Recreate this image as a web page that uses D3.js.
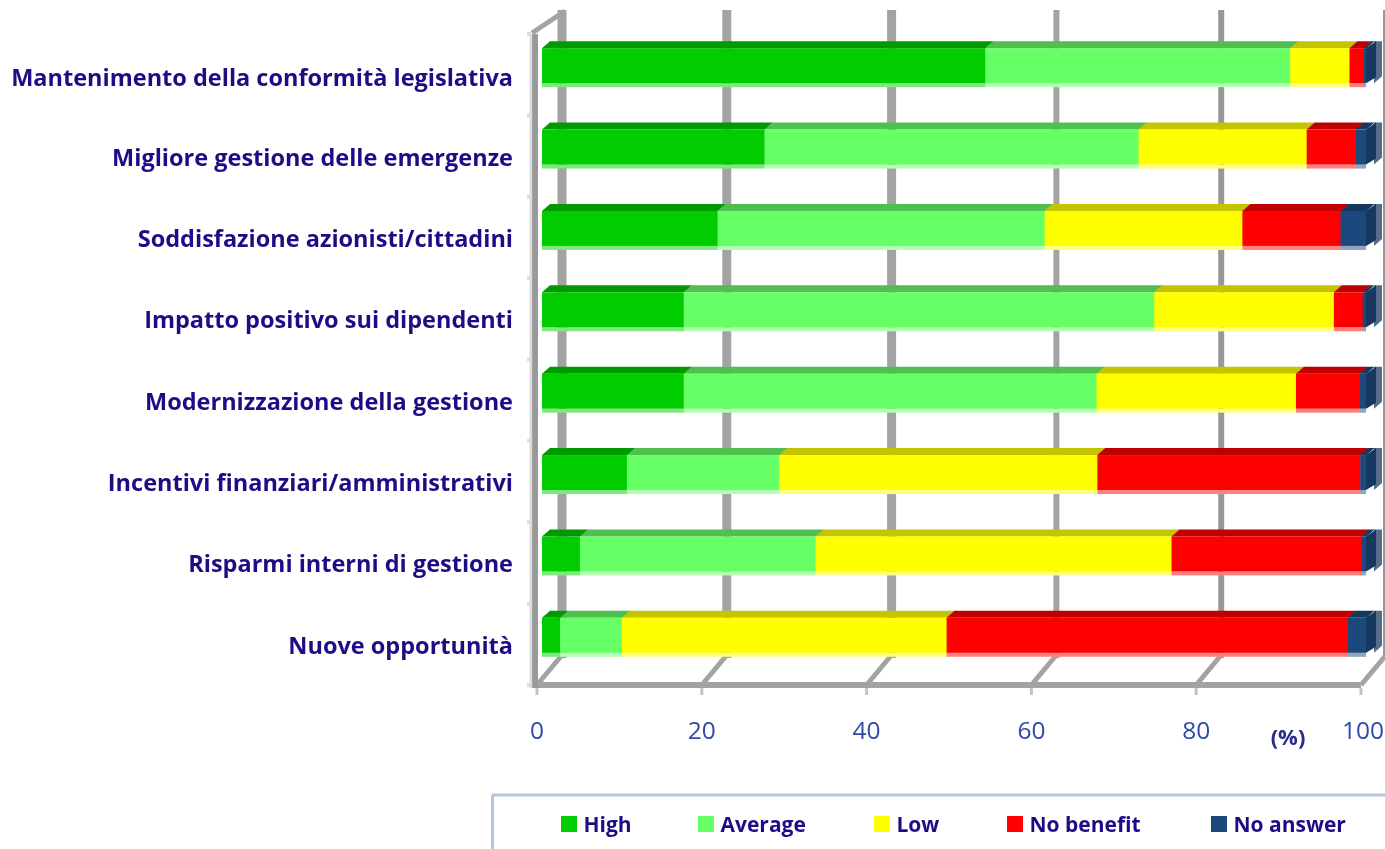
<!DOCTYPE html>
<html><head><meta charset="utf-8">
<script src="https://cdnjs.cloudflare.com/ajax/libs/d3/7.8.5/d3.min.js"></script>
<style>html,body{margin:0;padding:0;background:#fff;overflow:hidden}</style>
</head><body><svg id="c" width="1385" height="849"></svg>
<script>
const categories = ["Mantenimento della conformità legislativa","Migliore gestione delle emergenze","Soddisfazione azionisti/cittadini","Impatto positivo sui dipendenti","Modernizzazione della gestione","Incentivi finanziari/amministrativi","Risparmi interni di gestione","Nuove opportunità"];
const seriesNames = ["High","Average","Low","No benefit","No answer"];
const high      = [53.8,27.0,21.3,17.2,17.2,10.3,4.6,2.2];
const average   = [37.0,45.4,39.7,57.1,50.1,18.5,28.6,7.5];
const low       = [7.2,20.4,24.0,21.8,24.2,38.6,43.2,39.4];
const noBenefit = [1.7,5.9,11.9,3.5,7.7,31.9,23.0,48.7];
const noAnswer  = [0.3,1.3,3.1,0.4,0.8,0.7,0.6,2.2];
const tickValues = [0,20,40,60,80,100];
const frontColors = ["#00cc00","#66ff66","#ffff00","#ff0000","#1f497d"];
const topColors   = ["#009900","#4fbf4f","#c4c400","#bf0000","#17375e"];
const stripColors = ["#80e680","#b3ffb3","#ffff80","#ff8080","#8fa4be"];

const series = [high,average,low,noBenefit,noAnswer];
const svg = d3.select("#c");
const defs = svg.append("defs");
const addBlur=(id,s)=>defs.append("filter").attr("id",id).attr("x","-5%").attr("y","-5%").attr("width","110%").attr("height","110%")
  .append("feGaussianBlur").attr("stdDeviation",s);
addBlur("soft",0.55); addBlur("softer",0.75);
const root = svg.append("g");

const x = d3.scaleLinear().domain([0,100]).range([537,1361]);
const y = d3.scaleBand().domain(categories).range([34,685]);
const depthX = 25, depthY = 27, wallTop = 10, gray = "#a3a3a3";

// walls
const wall = root.append("g").attr("filter","url(#soft)");
wall.selectAll("line.grid").data(tickValues).join("line")
  .attr("x1",d=>x(d)+depthX).attr("x2",d=>x(d)+depthX)
  .attr("y1",wallTop).attr("y2",y.range()[1]-depthY)
  .attr("stroke",(d)=>d===80||d===100?"#989898":gray).attr("stroke-width",d=>d>=60?6:9);
wall.selectAll("line.dia").data(tickValues).join("line")
  .attr("x1",d=>x(d)).attr("x2",d=>x(d)+depthX)
  .attr("y1",y.range()[1]).attr("y2",y.range()[1]-depthY-3)
  .attr("stroke",gray).attr("stroke-width",5);
wall.append("line").attr("x1",x(0)).attr("x2",x(100)).attr("y1",685).attr("y2",685).attr("stroke",gray).attr("stroke-width",6);
wall.selectAll("line.tick").data(tickValues).join("line")
  .attr("x1",d=>x(d)).attr("x2",d=>x(d)).attr("y1",688).attr("y2",695).attr("stroke","#c4c4c4").attr("stroke-width",3);
// left wall
wall.append("line").attr("x1",535).attr("x2",535).attr("y1",34).attr("y2",688).attr("stroke","#999").attr("stroke-width",6);
wall.append("line").attr("x1",531).attr("x2",531).attr("y1",34).attr("y2",688).attr("stroke","#d8d8d8").attr("stroke-width",2.5);
wall.append("line").attr("x1",532).attr("y1",33).attr("x2",x(0)+depthX+3).attr("y2",wallTop+1).attr("stroke",gray).attr("stroke-width",5);
const boundaries = categories.map(c=>y(c)).concat([y.range()[1]]);
wall.selectAll("line.ltick").data(boundaries).join("line")
  .attr("x1",527).attr("x2",531).attr("y1",d=>d).attr("y2",d=>d).attr("stroke","#dedede").attr("stroke-width",4);

// bars
const faceH = 35, topH = 7, stripH = 4, shift = 8, off = 5;
const bars = root.append("g").attr("filter","url(#soft)");
categories.forEach((c,i)=>{
  const yF = y(c)+y.bandwidth()/2-9-faceH/2;
  const g = bars.append("g");
  let acc = 0;
  const segs = series.map((s,k)=>{const a=acc; acc+=s[i]; return {k,a,b:acc};});
  const sx = v => x(v)+off;
  g.selectAll("rect.strip").data(segs).join("rect")
    .attr("x",d=>sx(d.a)).attr("width",d=>sx(d.b)-sx(d.a)+(d.k===4?0:0.5))
    .attr("y",yF+faceH).attr("height",stripH).attr("fill",d=>stripColors[d.k]);
  g.selectAll("path.top").data(segs).join("path")
    .attr("d",d=>`M${sx(d.a)},${yF}L${sx(d.a)+shift},${yF-topH}L${sx(d.b)+shift+0.5},${yF-topH}L${sx(d.b)+0.5},${yF}Z`)
    .attr("fill",d=>topColors[d.k]);
  const end = sx(100);
  g.append("path").attr("d",`M${end+8},${yF-topH}L${end+16},${yF-topH}L${end+16},${yF+faceH-7}L${end+8},${yF+faceH}Z`).attr("fill","#576d8a");
  g.append("path").attr("d",`M${end},${yF}L${end+10},${yF-topH}L${end+10},${yF+faceH-6}L${end},${yF+faceH}Z`).attr("fill","#17375e");
  g.selectAll("rect.front").data(segs).join("rect")
    .attr("x",d=>sx(d.a)).attr("width",d=>sx(d.b)-sx(d.a)+(d.k===4?0:0.5))
    .attr("y",yF).attr("height",faceH).attr("fill",d=>frontColors[d.k]);
});

// text
const text = root.append("g").attr("filter","url(#softer)").attr("font-family","'Open Sans', Lato, sans-serif");
text.selectAll("text.cat").data(categories).join("text")
  .attr("x",513).attr("y",(d,i)=>y(d)+y.bandwidth()/2+(i===0?3:1)).attr("dy","0.36em")
  .attr("text-anchor","end").attr("font-weight",700).attr("font-size",23.5).attr("fill","#1c0f86").text(d=>d);
text.selectAll("text.tick").data(tickValues).join("text")
  .attr("x",d=>x(d)+(d===100?2:0)).attr("y",730).attr("dy","0.36em").attr("text-anchor","middle")
  .attr("font-size",24.5).attr("fill","#2d4aa8").text(d3.format("d"));
text.append("text").attr("x",1288).attr("y",737).attr("dy","0.36em").attr("text-anchor","middle").attr("font-size",22).attr("font-weight",700).attr("fill","#2a2a8e").text("(%)");

// legend
const legend = root.append("g").attr("filter","url(#softer)").attr("font-family","'Open Sans', Lato, sans-serif");
legend.append("line").attr("x1",492).attr("x2",1385).attr("y1",795).attr("y2",795).attr("stroke","#b7c4e0").attr("stroke-width",3);
legend.append("line").attr("x1",492.5).attr("x2",492.5).attr("y1",795).attr("y2",849).attr("stroke","#b7c4e0").attr("stroke-width",3);
const legendX = d3.scaleOrdinal().domain(seriesNames).range([561,698,874,1007,1211]);
const items = legend.selectAll("g.item").data(seriesNames).join("g").attr("transform",d=>`translate(${legendX(d)},816)`);
items.append("rect").attr("width",16).attr("height",16).attr("fill",(d,i)=>frontColors[i]);
items.append("text").attr("x",22.5).attr("y",8).attr("dy","0.36em").attr("font-weight",700).attr("font-size",21).attr("fill","#1c0f86").text(d=>d);
</script></body></html>
